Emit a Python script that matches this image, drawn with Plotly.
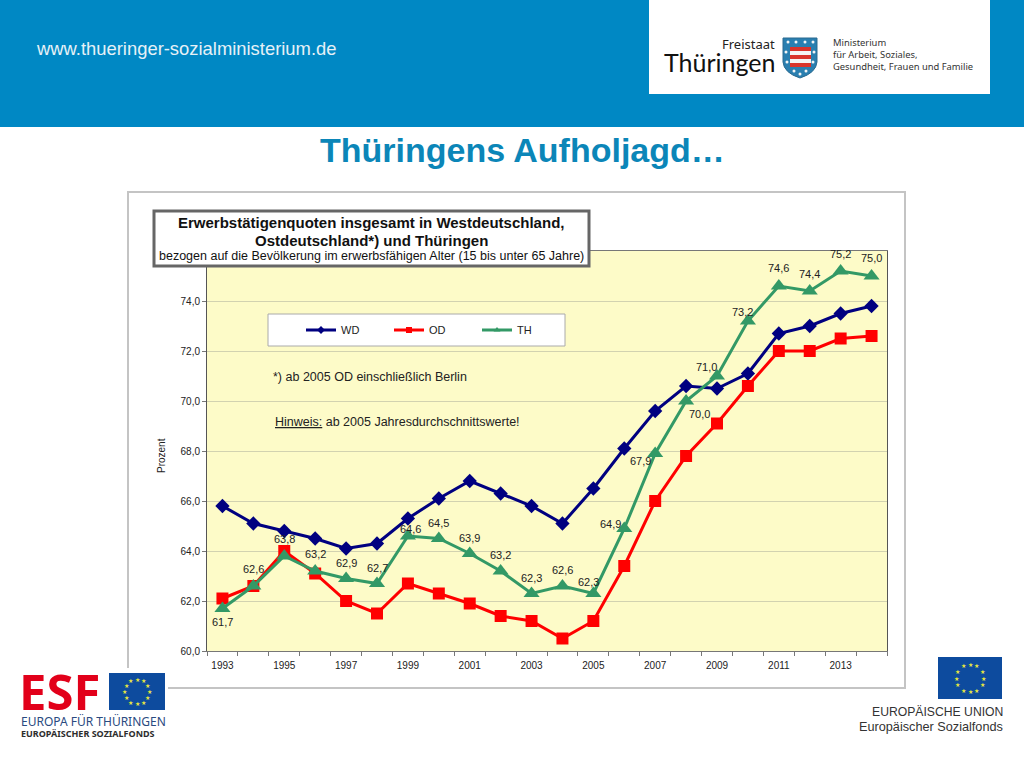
import math
import plotly.graph_objects as go

years = list(range(1993, 2015))
wd = [65.8, 65.1, 64.8, 64.5, 64.1, 64.3, 65.3, 66.1, 66.8, 66.3, 65.8, 65.1, 66.5, 68.1, 69.6, 70.6, 70.5, 71.1, 72.7, 73.0, 73.5, 73.8]
od = [62.1, 62.6, 64.0, 63.1, 62.0, 61.5, 62.7, 62.3, 61.9, 61.4, 61.2, 60.5, 61.2, 63.4, 66.0, 67.8, 69.1, 70.6, 72.0, 72.0, 72.5, 72.6]
th = [61.7, 62.6, 63.8, 63.2, 62.9, 62.7, 64.6, 64.5, 63.9, 63.2, 62.3, 62.6, 62.3, 64.9, 67.9, 70.0, 71.0, 73.2, 74.6, 74.4, 75.2, 75.0]
x_tick_years = list(range(1993, 2015, 2))
y_ticks = [60, 62, 64, 66, 68, 70, 72, 74]
y_labels = ["60,0", "62,0", "64,0", "66,0", "68,0", "70,0", "72,0", "74,0"]
# label offsets of the Thüringen data labels relative to their point (px right, px up)
label_dx = [0, 0, 0, 0, 0, 0, 3, 0, 0, 0, 0, 0, -5, -14, -15, 13, -11, -5, 0, 0, 0, 0]
label_dy = [-13, 17, 17, 17, 16, 16, 7, 16, 16, 16, 16, 16, 12, 5, -7, -13, 9, 9, 18, 17, 17, 18]

W, H = 1024, 768
SANS = "Liberation Sans, Arial, sans-serif"
HUM = "Noto Sans, Open Sans, sans-serif"

def px(v):
    return v / W

def py(v):
    return 1 - v / H

shapes = []
ann = []

def rect(x0, y0, x1, y1, fill, line=None, lw=0, layer="below"):
    shapes.append(dict(type="rect", xref="paper", yref="paper", x0=px(x0), x1=px(x1), y0=py(y0), y1=py(y1),
                       fillcolor=fill, line=dict(color=line or fill, width=lw), layer=layer))

def text(x, y, s, size, color="#222222", anchor="left", family=SANS, angle=0):
    ann.append(dict(xref="paper", yref="paper", x=px(x), y=py(y), text=s, showarrow=False, xanchor=anchor,
                    yanchor="middle", textangle=angle, font=dict(size=size, color=color, family=family),
                    borderpad=0, borderwidth=0))

def eu_flag(x0, y0, x1, y1):
    rect(x0, y0, x1, y1, "#0d4b9e", layer="above")
    cx, cy = (x0 + x1) / 2, (y0 + y1) / 2
    r = (y1 - y0) * 0.33
    for k in range(12):
        a = k * math.pi / 6
        text(cx + r * math.sin(a), cy - r * math.cos(a), "★", 6, "#e6e640", "center", "DejaVu Sans")

def path_paper(p):
    out = []
    toks = p.split()
    i = 0
    while i < len(toks):
        if toks[i] in "MLQZ":
            out.append(toks[i])
            i += 1
        else:
            out.append(f"{px(float(toks[i])):.5f},{py(float(toks[i + 1])):.5f}")
            i += 2
    return " ".join(out)

# header band and page furniture
rect(0, 0, W, 127, "#0088c4")
rect(649, 0, 990, 94, "#ffffff")
text(36, 48, "www.thueringer-sozialministerium.de", 18.4, "#e6f1f7")
text(522, 150, "<b>Thüringens Aufholjagd…</b>", 34, "#0b86b8", "center")
rect(128, 192, 905, 688, "rgba(0,0,0,0)", "#c4c4c4", 2)

# Thüringen logo
text(775, 44, "Freistaat", 13, "#222222", "right", HUM)
text(775, 62, "Thüringen", 25, "#111111", "right", "Lato, Noto Sans, sans-serif")
shield = "M 783 38 L 817 38 L 817 62 Q 816 73 800 78 Q 784 73 783 62 Z"
shapes.append(dict(type="path", xref="paper", yref="paper", path=path_paper(shield), fillcolor="#2a7fb0",
                   line=dict(color="#2a6a90", width=1), layer="above"))
for y0, col in [(47, "#d9342b"), (51, "#f4f4f4"), (55, "#d9342b"), (59, "#f4f4f4"), (63, "#d9342b")]:
    rect(790, y0, 811, y0 + 4, col, layer="above")
for cx, cy in [(788, 42), (796, 42), (805, 42), (813, 42), (786, 52), (814, 52), (787, 62), (813, 62), (794, 71), (806, 71), (800, 74)]:
    shapes.append(dict(type="circle", xref="paper", yref="paper", x0=px(cx - 1.5), x1=px(cx + 1.5), y0=py(cy + 1.5),
                       y1=py(cy - 1.5), fillcolor="#f4f4f4", line=dict(width=0), layer="above"))
text(833, 42, "Ministerium", 9.4, "#333333", "left", HUM)
text(833, 54, "für Arbeit, Soziales,", 9.4, "#333333", "left", HUM)
text(833, 66, "Gesundheit, Frauen und Familie", 9.4, "#333333", "left", HUM)

# ESF logo (lower left)
rect(20, 668, 168, 742, "#ffffff", layer="above")
text(19, 691, "<b>ESF</b>", 49, "#e2001a", "left", HUM)
eu_flag(109, 673, 165, 710)
text(21, 721, "EUROPA FÜR THÜRINGEN", 12, "#2a4a80", "left", HUM)
text(21, 733, "<b>EUROPÄISCHER SOZIALFONDS</b>", 9, "#2d2d2d", "left", HUM)

# EU logo (lower right)
eu_flag(938, 657, 1002, 699)
text(1003, 712, "EUROPÄISCHE UNION", 12.2, "#333333", "right")
text(1003, 727, "Europäischer Sozialfonds", 12.7, "#333333", "right")

# chart title box and legend box
rect(154, 211, 589, 266, "#ffffff", "#666666", 3, layer="above")
text(371, 223, "<b>Erwerbstätigenquoten insgesamt in Westdeutschland,</b>", 15, "#111111", "center")
text(371, 241, "<b>Ostdeutschland*) und Thüringen</b>", 15, "#111111", "center")
text(371, 256, "bezogen auf die Bevölkerung im erwerbsfähigen Alter (15 bis unter 65 Jahre)", 12.5, "#111111", "center")
rect(268, 314, 565, 346, "#ffffff", "#aaaaaa", 1, layer="above")
text(273, 377, "*) ab 2005 OD einschließlich Berlin", 12.5, "#222222")
text(275, 422, "<u>Hinweis:</u> ab 2005 Jahresdurchschnittswerte!", 12.5, "#222222")
text(161, 456, "Prozent", 10, "#222222", "center", SANS, -90)

# Thüringen data labels, read from the series itself
for yr, v, dx, dy in zip(years, th, label_dx, label_dy):
    ann.append(dict(xref="x", yref="y", x=yr, y=v, text=f"{v:.1f}".replace(".", ","), showarrow=False,
                    xshift=dx, yshift=dy, font=dict(size=11, color="#222222", family=SANS)))

fig = go.Figure()
styles = [("WD", wd, "#000080", "diamond", 11), ("OD", od, "#ff0000", "square", 12), ("TH", th, "#339966", "triangle-up", 14)]
for name, vals, col, sym, size in styles:
    fig.add_trace(go.Scatter(x=years, y=vals, name=name, mode="lines+markers", showlegend=False,
                             line=dict(color=col, width=3), marker=dict(color=col, symbol=sym, size=size)))
for name, vals, col, sym, size in styles:
    fig.add_trace(go.Scatter(x=[None], y=[None], name=name, mode="lines+markers",
                             line=dict(color=col, width=3), marker=dict(color=col, symbol=sym, size=6)))

fig.update_layout(
    width=W, height=H, autosize=False, margin=dict(l=0, r=0, t=0, b=0, autoexpand=False),
    paper_bgcolor="#ffffff", plot_bgcolor="#fdfbc8", shapes=shapes, annotations=ann,
    font=dict(family=SANS, color="#222222"),
    legend=dict(orientation="h", x=px(301), y=py(330), xanchor="left", yanchor="middle", bgcolor="rgba(0,0,0,0)",
                entrywidth=43, entrywidthmode="pixels", font=dict(size=11, color="#222222", family=SANS)),
    xaxis=dict(domain=[px(207), px(887)], range=[1992.5, 2014.5], tickmode="array", tickvals=x_tick_years,
               ticktext=[str(y) for y in x_tick_years], ticks="", showgrid=False, zeroline=False,
               showline=True, linecolor="#777777", linewidth=1, mirror=True, automargin=False,
               ticklabelstandoff=5, tickfont=dict(size=10, color="#222222"),
               minor=dict(tick0=1992.5, dtick=1, ticks="outside", ticklen=4, tickcolor="#777777", showgrid=False)),
    yaxis=dict(domain=[py(651), py(251)], range=[60, 76], tickmode="array", tickvals=y_ticks, ticktext=y_labels,
               ticks="outside", ticklen=4, tickcolor="#777777", gridcolor="#d2d2b0", gridwidth=1, zeroline=False,
               showline=True, linecolor="#555555", linewidth=1, mirror=True, automargin=False,
               tickfont=dict(size=10, color="#222222")),
)
fig.write_html("out.html", config={"displayModeBar": False},
               post_script="document.body.style.margin='0';document.body.style.overflow='hidden';")
